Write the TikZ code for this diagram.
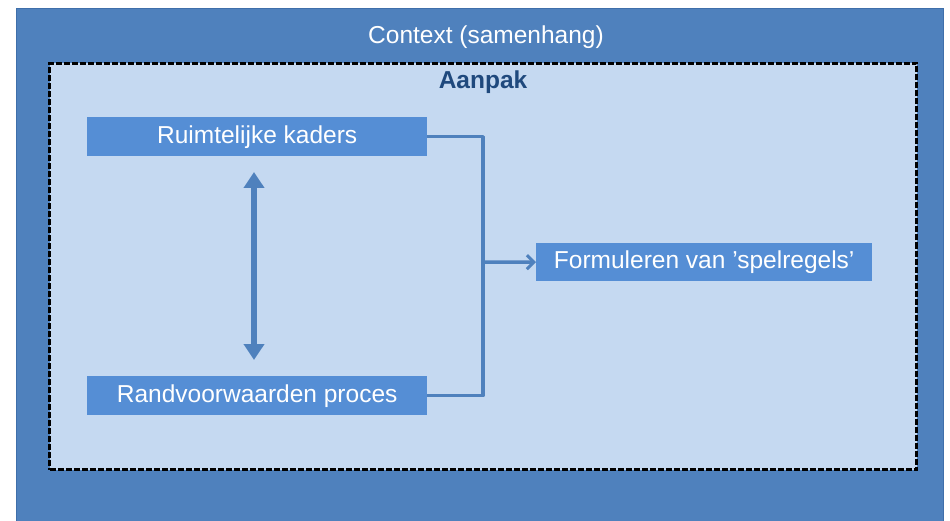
\documentclass[tikz,border=0pt]{standalone}
\usepackage{fontspec}
\setmainfont{Liberation Sans}
\usetikzlibrary{arrows.meta}
\definecolor{outerblue}{HTML}{4F81BD}
\definecolor{innerfill}{HTML}{C5D9F1}
\definecolor{boxblue}{HTML}{558ED5}
\definecolor{darkblue}{HTML}{1F497D}
\definecolor{edgeblue}{HTML}{3F6FAA}
\tikzset{
  stepbox/.style={fill=boxblue, text=white, inner sep=0pt, minimum height=39pt,
    font=\fontsize{24.5}{26}\selectfont, anchor=north west},
  conn/.style={draw=outerblue, line width=3.5pt},
  dbl/.style={draw=outerblue, line width=6pt, {Triangle[width=20pt,length=16pt]}-{Triangle[width=20pt,length=16pt]}},
}
\begin{document}
\begin{tikzpicture}[x=1pt,y=-1pt]
\useasboundingbox (0,0) rectangle (950,521);
\fill[white] (0,0) rectangle (950,521);
\node[draw=edgeblue, line width=1pt, fill=outerblue, inner sep=0pt, anchor=north west,
  minimum width=927pt, minimum height=520pt] (outer) at (16,8) {};
\node[text=white, font=\fontsize{24.5}{26}\selectfont] (ctx) at (486,37) {Context (samenhang)};
\node[draw=black, fill=innerfill, line width=3pt, dash pattern=on 6pt off 2pt,
  inner sep=0pt, anchor=north west, minimum width=867pt, minimum height=406pt] (aanpak) at (48,62) {};
\node[text=darkblue, font=\fontsize{24.5}{26}\selectfont\bfseries] (atitle) at (483,82) {Aanpak};
\node[stepbox, minimum width=340pt] (rk) at (87,117) {Ruimtelijke kaders};
\node[stepbox, minimum width=340pt] (rp) at (87,376) {Randvoorwaarden proces};
\node[stepbox, minimum width=336pt, minimum height=38pt] (fs) at (536,243) {Formuleren van ’spelregels’};
\coordinate (j) at (483,262);
\draw[conn, line join=round] (rk.east) -| (j) |- (rp.east);
\draw[conn, -{Straight Barb[length=7pt,width=14pt,line width=3pt]}] (j) -- (fs.west);
\coordinate (ta) at (254,172);
\coordinate (tb) at (254,360);
\draw[dbl] (ta) -- (tb);
\end{tikzpicture}
\end{document}
